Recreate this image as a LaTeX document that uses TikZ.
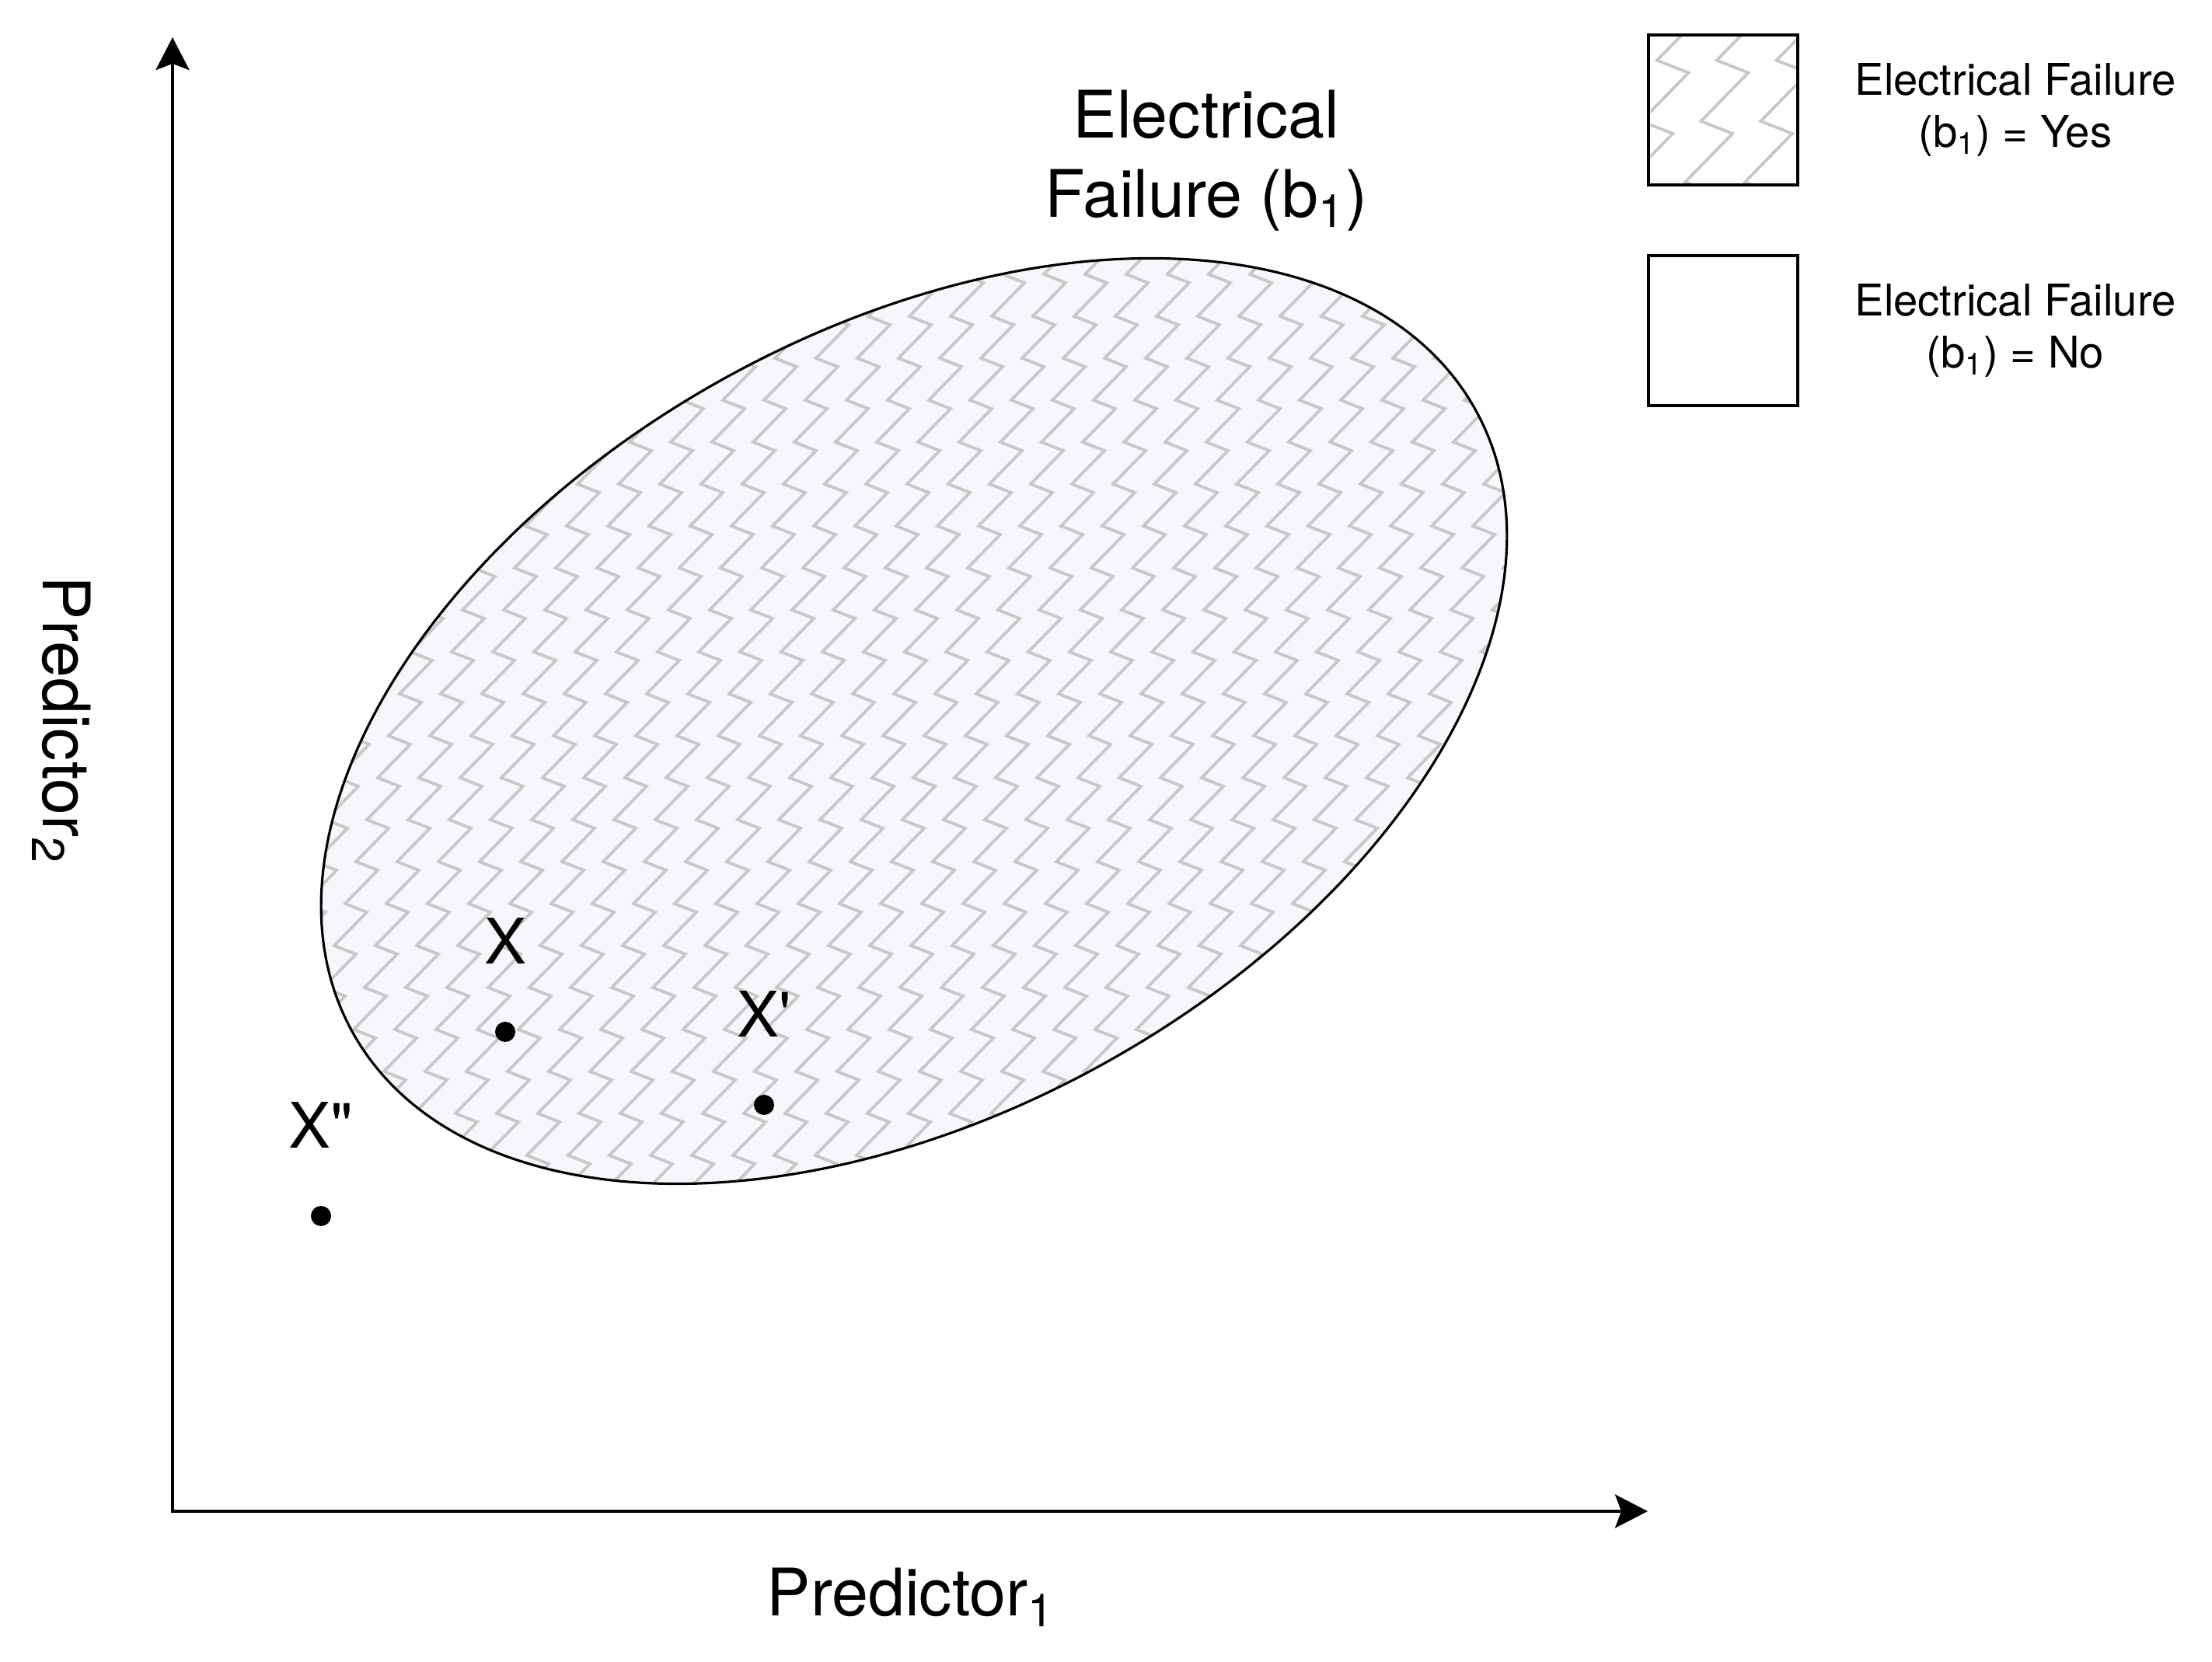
\documentclass[tikz,border=0pt]{standalone}
\usepackage{fontspec}
\setmainfont{TeX Gyre Heros}
\usepackage{graphicx}
\usetikzlibrary{arrows.meta, positioning}
\definecolor{zigcol}{RGB}{200,200,200}
\definecolor{tintcol}{RGB}{246,247,250}
\tikzstyle{axis} = [line width=1.1pt, {Stealth[length=4.2mm, width=4.3mm, inset=0.8mm]}-{Stealth[length=4.2mm, width=4.3mm, inset=0.8mm]}]
\tikzstyle{dot} = [circle, fill=black, inner sep=0pt, minimum size=2.6mm]
\tikzstyle{ptlabel} = [inner sep=0pt, font=\fontsize{23}{28}\selectfont]
\tikzstyle{legbox} = [draw, line width=1.2pt, minimum width=1.92cm, minimum height=1.93cm, inner sep=0pt]
\tikzstyle{legtext} = [align=center, inner sep=0pt, font=\fontsize{16}{19}\selectfont]
\tikzstyle{bigtext} = [align=center, inner sep=0pt, font=\fontsize{24}{29}\selectfont]
\tikzstyle{zig} = [line width=1.1pt, zigcol]
\tikzstyle{region} = [rotate around={29:(11.76,12.11)}]

\begin{document}
\begin{tikzpicture}
    \useasboundingbox (0,0) rectangle (28.46,21.39);
    % hatched failure region
    \begin{scope}
        \clip[region] (11.76,12.11) ellipse (8.26 and 5.04);
        \fill[tintcol] (0,0) rectangle (28.46,21.39);
        \foreach \c in {0,...,37}
            \draw[zig] (3.5+\c*0.53,18.4) \foreach \k in {1,...,23} {-- ++(0.28,-0.11) -- ++(-0.42,-0.43)};
    \end{scope}
    \draw[region, line width=0.9pt] (11.76,12.11) ellipse (8.26 and 5.04);
    \node[bigtext] (title) at (15.52,19.32) {Electrical\\Failure (b\textsubscript{1})};

    \coordinate (origin) at (2.22,1.94);
    \coordinate (ytop) at (2.22,20.91);
    \coordinate (xend) at (21.20,1.94);
    \draw[axis] (ytop) -- (origin) -- (xend);
    \node[bigtext, anchor=base] (xaxlbl) at (11.72,0.59) {Predictor\textsubscript{1}};
    \node[bigtext, rotate=-90, anchor=base] (yaxlbl) at (0.55,12.12) {Predictor\textsubscript{2}};

    \node[dot] (xdot) at (6.50,8.11) {};
    \node[dot] (xpdot) at (9.83,7.17) {};
    \node[dot] (xppdot) at (4.13,5.74) {};
    \node[ptlabel, above of=xdot, node distance=1.17cm] (xlbl) {X};
    \node[ptlabel, above of=xpdot, node distance=1.17cm] (xplbl) {X\textquotesingle};
    \node[ptlabel, above of=xppdot, node distance=1.17cm] (xpplbl) {X\textquotedbl};

    % legend
    \node[legbox] (yesbox) at (22.17,19.975) {};
    \node[legbox, below of=yesbox, node distance=2.84cm] (nobox) {};
    \begin{scope}
        \clip ([shift={(0.045,0.045)}]yesbox.south west) rectangle ([shift={(-0.045,-0.045)}]yesbox.north east);
        \begin{scope}[shift={(yesbox.north west)}, scale=1.45]
            \foreach \c in {0,...,4}
                \draw[zig] (-0.3+\c*0.53,0.3) \foreach \k in {1,...,4} {-- ++(0.28,-0.11) -- ++(-0.42,-0.43)};
        \end{scope}
    \end{scope}
    \node[legtext, right of=yesbox, node distance=3.76cm] (yestext) {Electrical Failure\\(b\textsubscript{1}) = Yes};
    \node[legtext, right of=nobox, node distance=3.76cm] (notext) {Electrical Failure\\(b\textsubscript{1}) = No};
\end{tikzpicture}
\end{document}
